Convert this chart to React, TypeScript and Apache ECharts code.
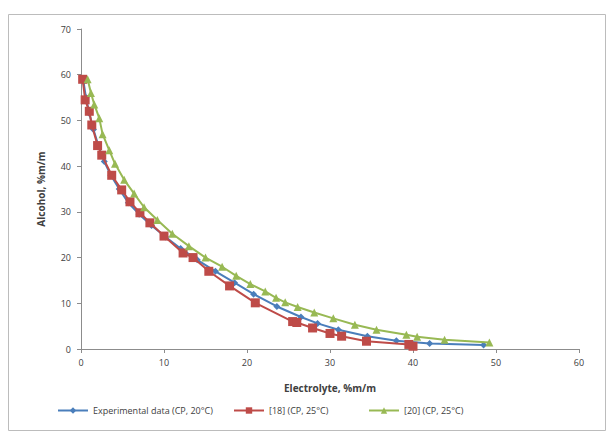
import React, { useEffect, useRef } from "react";
import * as echarts from "echarts";

const seriesNames = ["Experimental data (CP, 20°C)", "[18] (CP, 25°C)", "[20] (CP, 25°C)"];

const experimental: number[][] = [
  [0.3, 58.5], [0.6, 55], [1, 51.5], [1.5, 48], [2.1, 44.5], [2.8, 41], [3.6, 38], [4.6, 35],
  [5.7, 32], [7, 29.5], [8.5, 27], [10.2, 24.5], [12, 22], [14, 19.5], [16.2, 17], [18.5, 14.5],
  [20.8, 12], [23.6, 9.3], [26.5, 7], [28.5, 5.6], [31, 4.2], [34.5, 2.8], [38, 1.8], [42, 1.2], [48.5, 0.9],
];

const ref18: number[][] = [
  [0.2, 59], [0.5, 54.5], [1, 52], [1.3, 49], [2, 44.5], [2.5, 42.4], [3.7, 38], [4.9, 34.8],
  [5.9, 32.2], [7.1, 29.8], [8.3, 27.6], [10, 24.7], [12.3, 21], [13.5, 20], [15.4, 17], [17.9, 13.8],
  [21, 10.1], [25.5, 6], [26, 5.8], [27.9, 4.6], [30, 3.4], [31.4, 2.8], [34.4, 1.7], [39.5, 1], [40, 0.6],
];

const ref20: number[][] = [
  [0.8, 59], [1.2, 56], [1.6, 53.5], [2.2, 50.5], [2.6, 47], [3.4, 43.5], [4.1, 40.5], [5.2, 37],
  [6.4, 34], [7.6, 31], [9.2, 28.2], [11, 25.2], [13, 22.5], [15, 20], [17, 18], [18.7, 16],
  [20.4, 14.2], [22.2, 12.6], [23.5, 11.2], [24.6, 10.2], [26.1, 9.2], [28.1, 8], [30.4, 6.7],
  [33, 5.3], [35.6, 4.2], [39.2, 3.1], [40.5, 2.7], [43.8, 2], [49.2, 1.4],
];

const FONT = "'Open Sans', 'Liberation Sans', sans-serif";

export default function App() {
  const ref = useRef<HTMLDivElement>(null);
  useEffect(() => {
    if (!ref.current) return;
    const chart = echarts.init(ref.current, undefined, { renderer: "svg" });
    const axisCommon = {
      axisLine: { show: true, lineStyle: { color: "#8c8c8c", width: 1 } },
      axisTick: { show: true, inside: false, length: 4, lineStyle: { color: "#8c8c8c" } },
      splitLine: { show: false },
      axisLabel: { color: "#404040", fontSize: 9, fontFamily: FONT },
    };
    const legendBase = {
      top: 401,
      itemWidth: 30,
      itemHeight: 8,
      textStyle: { color: "#404040", fontSize: 9, fontFamily: FONT },
    };
    chart.setOption({
      animation: false,
      backgroundColor: "#ffffff",
      textStyle: { fontFamily: FONT },
      graphic: [
        {
          type: "rect",
          shape: { x: 8.5, y: 14.5, width: 597, height: 416 },
          style: { fill: "none", stroke: "#bcbcbc", lineWidth: 1 },
          silent: true,
          z: -1,
        },
      ],
      grid: { left: 81, right: 29, top: 29, bottom: 86 },
      xAxis: {
        type: "value",
        min: 0,
        max: 60,
        interval: 10,
        name: "Electrolyte, %m/m",
        nameLocation: "middle",
        nameGap: 34,
        nameTextStyle: { color: "#404040", fontSize: 10, fontWeight: "bold", fontFamily: FONT },
        ...axisCommon,
        axisLabel: { ...axisCommon.axisLabel, margin: 9 },
      },
      yAxis: {
        type: "value",
        min: 0,
        max: 70,
        interval: 10,
        name: "Alcohol, %m/m",
        nameLocation: "middle",
        nameGap: 35,
        nameRotate: 90,
        nameTextStyle: { color: "#404040", fontSize: 10, fontWeight: "bold", fontFamily: FONT },
        ...axisCommon,
        axisLabel: { ...axisCommon.axisLabel, margin: 10 },
      },
      legend: [
        { ...legendBase, left: 52, data: [seriesNames[0]] },
        { ...legendBase, left: 228, data: [seriesNames[1]] },
        { ...legendBase, left: 363, data: [seriesNames[2]] },
      ],
      series: [
        {
          name: seriesNames[0],
          type: "line",
          data: experimental,
          symbol: "diamond",
          symbolSize: 7,
          color: "#4a7ebb",
          lineStyle: { width: 2, color: "#4a7ebb" },
          itemStyle: { color: "#4a7ebb" },
          z: 2,
        },
        {
          name: seriesNames[1],
          type: "line",
          data: ref18,
          symbol: "rect",
          symbolSize: 9,
          color: "#be4b48",
          lineStyle: { width: 2, color: "#be4b48" },
          itemStyle: { color: "#be4b48" },
          z: 3,
        },
        {
          name: seriesNames[2],
          type: "line",
          data: ref20,
          symbol: "triangle",
          symbolSize: 8,
          color: "#98b954",
          lineStyle: { width: 2, color: "#98b954" },
          itemStyle: { color: "#98b954" },
          z: 4,
        },
      ],
    });
    return () => chart.dispose();
  }, []);
  return <div ref={ref} style={{ width: 608, height: 435, position: "absolute", left: 0, top: 0 }} />;
}
